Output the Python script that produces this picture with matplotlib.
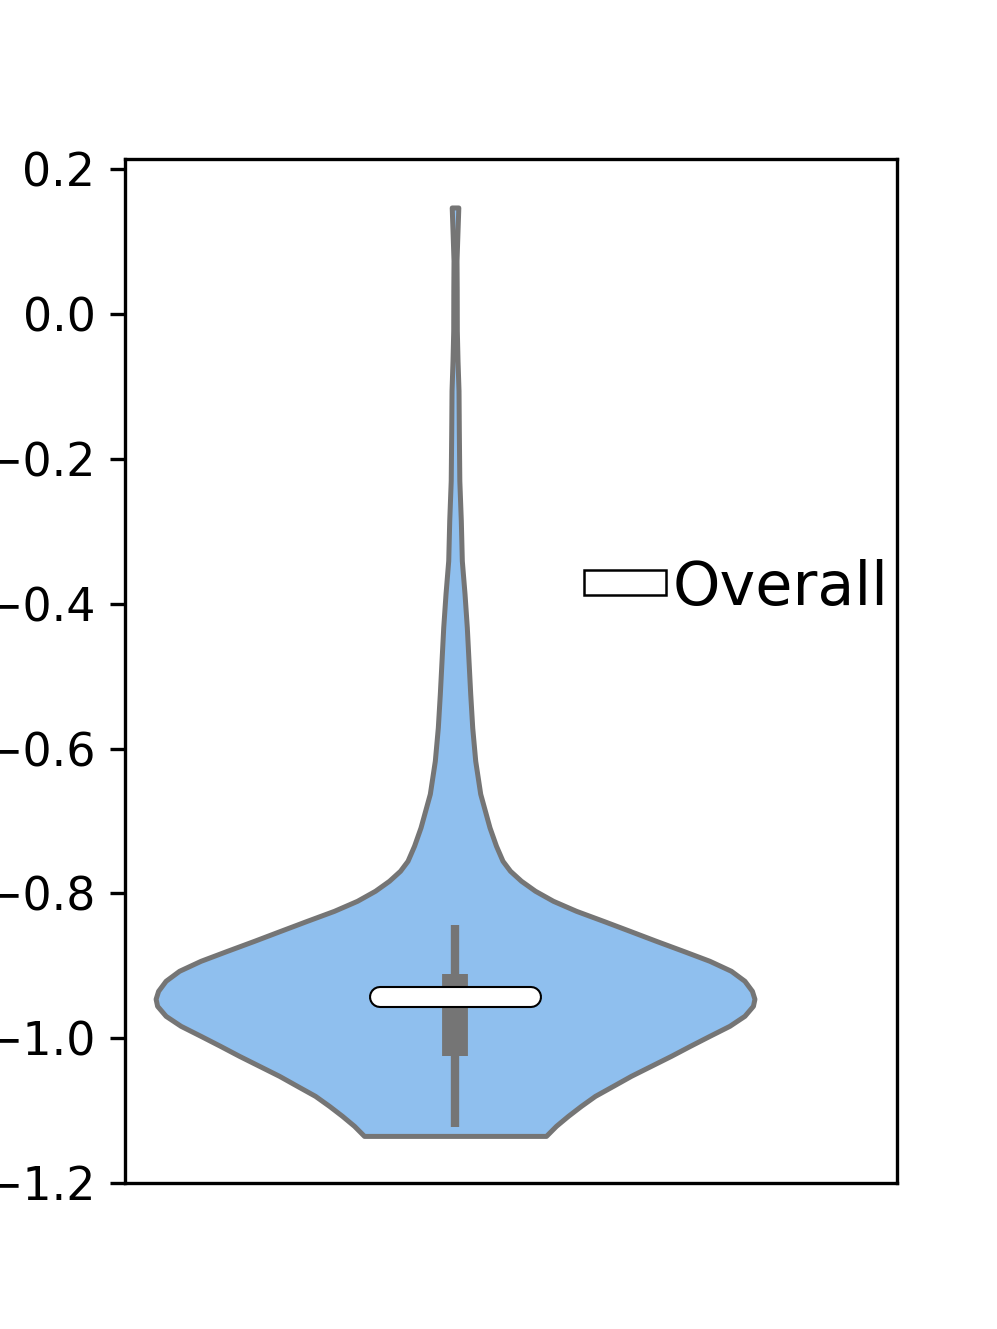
import numpy as np
import matplotlib
matplotlib.use("Agg")
import matplotlib.pyplot as plt
from matplotlib.patches import Patch

# violin outline: y value and half-width (any scale, peak is normalised)
coords = [0.1475, 0.1157, 0.0742, 0.0328, -0.0225, -0.0640, -0.1055, -0.1607,
          -0.2299, -0.2851, -0.3404, -0.3860, -0.4326, -0.4786, -0.5243, -0.5708,
          -0.6169, -0.6625, -0.7090, -0.7344, -0.7551, -0.7689, -0.7827, -0.7965,
          -0.8104, -0.8242, -0.8380, -0.8518, -0.8657, -0.8795, -0.8933, -0.9071,
          -0.9209, -0.9348, -0.9458, -0.9555, -0.9693, -0.9831, -0.9970, -1.0108,
          -1.0246, -1.0384, -1.0522, -1.0661, -1.0799, -1.0937, -1.1075, -1.1213,
          -1.1352]
density = [3.3, 2.5, 1.5, 1.7, 1.8, 2.5, 3.5, 3.8,
           4.3, 5.8, 6.8, 9.5, 11.8, 13.5, 15.2, 17.2,
           20.2, 25.2, 34.5, 41, 47.5, 55, 66, 80,
           98, 121, 148, 174.5, 201, 228, 254.5, 276,
           289.5, 297, 299.5, 298, 289.5, 274.5, 254.5, 235,
           216, 196, 176, 158, 140, 126, 113, 101,
           91]

q1, q3 = -1.0246, -0.911
whisk_lo, whisk_hi = -1.1227, -0.8435
median = -0.943
label = 'Overall'

fill_color = '#8fbfee'
line_color = '#757575'

fig, ax = plt.subplots(figsize=(997 / 300, 1329 / 300), dpi=300)

stats = [dict(coords=np.array(coords[::-1]), vals=np.array(density[::-1]),
              mean=np.mean(coords), median=median,
              min=min(coords), max=max(coords))]
parts = ax.violin(stats, positions=[0], widths=0.775,
                  showmeans=False, showextrema=False, showmedians=False)
for body in parts['bodies']:
    body.set_facecolor(fill_color)
    body.set_edgecolor(line_color)
    body.set_linewidth(1.2)
    body.set_alpha(1)

# inner box
ax.vlines(0, whisk_lo, whisk_hi, color=line_color, linewidth=2.0, zorder=3)
ax.vlines(0, q1, q3, color=line_color, linewidth=6.2, zorder=3)

# median bar
ax.plot([-0.0977, 0.0977], [median, median], color='black', linewidth=5.3,
        solid_capstyle='round', zorder=4)
ax.plot([-0.0977, 0.0977], [median, median], color='white', linewidth=4.3,
        solid_capstyle='round', zorder=5)

ax.set_xlim(-0.4276, 0.5724)
ax.set_ylim(-1.2, 0.2138)
ax.set_xticks([])
ax.tick_params(axis='y', labelsize=11)

handle = Patch(facecolor='white', edgecolor='black', linewidth=0.6, label=label)
ax.legend(handles=[handle], loc='center right', bbox_to_anchor=(0.988, 0.581),
          frameon=False, fontsize=14.5, handlelength=1.36, handleheight=0.26,
          handletextpad=0.1, borderpad=0, borderaxespad=0)

fig.savefig('out.png', dpi=300)
